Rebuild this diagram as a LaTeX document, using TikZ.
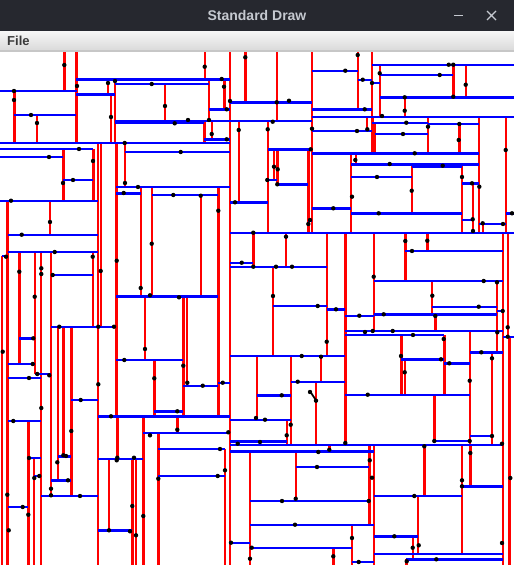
\documentclass[tikz,border=0pt]{standalone}
\usepackage{fontspec}
\setmainfont{Liberation Sans}
\definecolor{titlebg}{HTML}{26282F}
\definecolor{titlefg}{HTML}{C5C9D0}
\definecolor{menutop}{HTML}{F7F7F7}
\definecolor{menubot}{HTML}{DADADA}
\definecolor{menufg}{HTML}{3A3A3A}
\definecolor{kdred}{HTML}{FF0000}
\definecolor{kdblue}{HTML}{0000FF}
\tikzset{
  vline/.style={draw=kdred,line width=2.4pt},
  hline/.style={draw=kdblue,line width=2.4pt},
  kdpt/.style={fill=black},
  winbtn/.style={draw=titlefg,line width=1.2pt}
}
\begin{document}
\begin{tikzpicture}[x=1pt,y=-1pt]
\useasboundingbox (0,0) rectangle (514,565);
% title bar
\fill[titlebg] (0,0) rectangle (514,31);
\node[font=\bfseries\fontsize{14}{16}\selectfont, text=titlefg] (title) at (257,15.5) {Standard Draw};
\draw[winbtn] (454,15.5) -- (463,15.5);
\draw[winbtn] (487,11) -- (496,20) (487,20) -- (496,11);
% menu bar
\shade[top color=menutop,bottom color=menubot] (0,31) rectangle (514,50);
\node[font=\bfseries\fontsize{13}{15}\selectfont, text=menufg, anchor=base west, inner sep=0pt] (menu) at (7,45) {File};
\fill[black!22] (0,50) rectangle (514,52);
\fill[white] (0,52) rectangle (514,565);
\begin{scope}
\clip (0,52) rectangle (514,565);
% red vertical lines
\foreach \x/\a/\b in {
230/52/565, 64.3/52/91, 76.3/52/142.7, 108/79.3/94.3, 110.7/94.3/142.7, 115/79.3/142.7,
165/84/121, 14.3/91/142.7, 37/115/142.7, 63.3/149/200.7, 93.3/149/200.7, 97.7/142.7/565,
100.7/142.7/326.7, 7.5/200.7/565, 50/200.7/234.7, 116.3/142.7/416.3, 117.3/416.3/457.7,
125/142.7/186.7, 140.7/186.7/296.5, 151.7/186.7/296.5, 204.7/52/79.3, 245.3/52/102.3,
276.7/52/121.7, 311.7/52/232.7, 209/79.3/121, 224.3/79.3/109.3, 238.7/121/202.3,
267.7/121/232.7, 274/149.3/180, 277.3/149.3/184.3, 308.3/149.3/232.7, 204.3/121/142.7,
212/121/139.3, 200.7/195/296.5, 218.3/186.7/416.3, 357.7/52/109.3, 371.7/52/116.7,
372.3/116.7/153.3, 374.7/122.7/153.3, 379.7/64.7/116.7, 453.3/64.7/97.3, 465.7/64.7/97.3,
404.7/97.3/116.7, 367/116.7/131, 428/116.7/153.3, 459.3/124/153.3, 478.7/116.7/232.7,
505.7/116.7/232.7, 351/153.3/232.7, 356/153.3/164.3, 411.7/164.3/213.3, 462/164.3/232.7,
472.7/183.3/232.7, 482.7/224/232.7, 1.7/256/565, 19.3/252/364, 34.7/252/374, 41/252/565,
51/252/496, 92.7/252/326.7, 57.7/326.7/480.3, 63.5/326.7/456.3, 71.3/326.7/496,
145/296.5/360, 154.3/360/416.3, 183.3/296.5/416.3, 186.7/296.5/385.7, 253.3/232.7/266.7,
286/232.7/266.7, 326.7/232.7/356, 273/266.7/356, 256.7/356/419.7, 290.7/356/445.3,
321/356/381.7, 316/381.7/445.3, 345.3/232.7/444.7, 373.7/232.7/331, 405.3/232.7/281,
427.3/232.7/251, 503/232.7/565, 507.7/232.7/336.7, 497/281/352.3, 432/281/314.3,
435.3/314.3/331, 401.3/335/394.7, 404.7/359.3/394.7, 444.3/335/394.7, 469.7/331/444.7,
492/352.3/444.7, 509.5/336.7/565, 434.3/394.7/441, 286.7/419.7/445.3, 329.3/444.7/451.3,
237.7/441.3/444.7, 250/451.3/565, 295.7/451.3/501, 333.3/547.7/565, 177.3/416.3/433,
225/449/565, 369.3/444.7/524.7, 373.7/444.7/565, 424.3/444.7/496, 462/444.7/553.7,
470.3/444.7/486.3, 352/524.7/565, 413/536.3/558.7, 418/496/553.7, 406.3/559.3/565,
28.3/421/565, 34/458/565, 143.3/416.3/565, 109/458.7/530.3, 132.3/458.7/565,
136/458.7/565, 158.3/433/565}
  \draw[vline] (\x,\a) -- (\x,\b);
% blue horizontal lines
\foreach \y/\a/\b in {
91/0/77, 79.3/76.3/230, 94.3/76.3/115, 84/115/209, 121/115/230, 123/115/204,
115/14.3/76.3, 142.7/0/230, 149/0/93.3, 156.7/0/63.3, 180/63.3/93.3, 200.7/0/98,
186.7/116.3/230, 151.7/125/230, 193.3/116.3/140.7, 195/151.7/218.3, 102.3/230/311.7,
109.3/209/230, 121/230/311.7, 202.3/230/267.7, 149.3/267.7/311.7, 180/267.7/277.3,
184.3/277.3/308.3, 139.3/204.3/230, 208.3/311.7/351, 70.7/311.7/357.7, 109.3/311.7/371.7,
116.7/311.7/514, 131/311.7/371.7, 153.3/311.7/478.7, 64.7/371.7/514, 79.7/357.7/371.7,
83/371.7/379.7, 75/379.7/453.3, 97.3/379.7/514, 122.7/371.7/428, 124/428/478.7,
134/374.7/428, 164.3/351/478.7, 166.3/411.7/462, 177/351/411.7, 183.3/462/478.7,
213.3/351/462, 220/462/472.7, 213.3/505.7/514, 224/478.7/505.7, 221/308.3/311.7,
234.7/7.5/98, 252/7.5/98, 256/1.7/7.5, 338.3/19.3/34.7, 275/51/92.7, 326.7/51/116.3,
364/7.5/34.7, 378/7.5/41, 374/34.7/51, 296.5/116.3/218.3, 360/116.3/183.3,
385.7/183.3/218.3, 382.7/218.3/230, 232.7/230/514, 262.7/230/253.3, 266.7/230/326.7,
306/273/326.7, 309.3/326.7/345.3, 356/230/345.3, 381.7/290.7/345.3, 251/405.3/503,
281/373.7/503, 306.7/432/497, 310.7/497/503, 314.3/373.7/497, 315.7/345.3/373.7,
331/345.3/503, 335/345.3/444.3, 336.7/503/514, 359.3/401.3/444.3, 363.3/444.3/469.7,
352.3/469.7/503, 394.7/345.3/469.7, 441/434.3/469.7, 436/469.7/492, 444.7/230/503,
395.3/256.7/290.7, 419.7/230/290.7, 441.3/230/286.7, 451.3/230/373.7, 467/295.7/369.3,
501/250/369.3, 524.7/250/373.7, 542.7/230/250, 547.7/250/352, 496/373.7/462,
486.3/462/503, 562/352/373.7, 536.3/373.7/418, 553.7/373.7/503, 559.3/406.3/503,
411.3/154.3/183.3, 416.3/98/230, 433/143.3/230, 449/158.3/225, 476/158.3/225,
421/7.5/41, 458/28.3/41, 476/34/41, 507/7.5/28.3, 456.3/57.7/71.3, 480.3/51/71.3,
496/41/98, 400/71.3/98, 458.7/98/143.3, 530.3/98/132.3}
  \draw[hline] (\a,\y) -- (\b,\y);
% points
\foreach \px/\py in {
64.3/65, 77/86, 221.7/79, 108/83, 111/117, 115/81, 151.7/84, 165/106, 14/91, 14/100,
31/115, 37/123, 124.7/143, 79/149, 49/157, 63/183, 73/180, 93/161, 11/200.7, 50/222,
125/183, 138/187, 123.7/193, 140.7/288, 151.7/243.7, 173.3/195, 200.7/195.7, 204.7/66.7,
245.3/57.3, 276.7/102.3, 230/101, 289/100.7, 209/120, 224/86.7, 226.7/109.3, 272.7/121.7,
188/120, 174.7/123.3, 238.7/130, 235/202.3, 267.7/129.3, 310.7/149.3, 274/166.7,
277.7/169.3, 267.3/180, 277.3/184.3, 211.7/134, 226.7/139.3, 180.7/152, 218.3/210.7,
333.3/208.3, 345.3/70.7, 364.7/109.3, 357/131, 414.7/153.3, 312/128.7, 357.7/55,
448.7/64.7, 453.3/64.7, 362.7/79.7, 372/83, 379.7/73.3, 382/116, 439.7/75, 453.3/96.7,
465.7/84.7, 404.7/97.3, 404.7/110.7, 406.3/122.7, 459.3/124, 367.3/129.3, 403/134,
428/126.7, 458.7/140, 479.3/186.7, 505.7/150, 355.3/160, 352/196.7, 389.7/164,
442.7/165.7, 411.7/190.7, 377/177, 462/177, 472/183.3, 472.7/219.3, 378.7/213.3,
512/213.3, 482.7/223.3, 503/224, 473/231, 310/220, 308.3/224, 21.7/234.7, 54.7/252,
6/256.7, 2.7/351.7, 19.3/271.7, 33.3/338.3, 34.7/296.7, 41.3/268.3, 41.3/274, 52.7/275,
92.7/256.7, 100.7/271, 59.3/326.7, 114/326.7, 98.3/326.7, 32.7/364, 29/378, 37.3/374,
49.3/375.3, 98.3/384.3, 116.7/260.7, 150/295.3, 179/297.3, 145/349, 124.3/360,
154.3/378.3, 183.3/365.7, 187.3/382.7, 202.7/385.7, 222.7/382.7, 253.3/232.7,
241.7/262.7, 253.3/266.7, 276/266.7, 292/266.7, 286/236.7, 326.7/341.7, 273/296,
317.7/306, 336/309.3, 301.7/356, 321/356.7, 256/418, 297.7/381.7, 316/400.7, 310/392,
345.3/443, 373.7/276.7, 372.7/331, 405.3/241, 427.3/240.7, 412/251, 502.7/311,
507.7/327.3, 483.7/281, 497/282.3, 497.3/332.3, 432.3/295.7, 478.7/306.7, 435.3/316,
383.7/314.3, 359.3/315.7, 392.7/331, 365/332, 413/335, 507.7/336.7, 401/356,
404.7/372.3, 441/359.3, 443.7/339, 449.3/363.3, 469.7/380.7, 481.3/352.3, 492/358.3,
510.3/478, 367.7/394.7, 434.3/441, 469.7/441, 492/436, 424.3/446.3, 502/443.7,
281.7/395.3, 265/419.7, 286.7/435.3, 290.7/424.7, 260/442, 237.7/443.7, 318.3/452,
329.3/449.7, 250/558.7, 317/467, 295.7/498.7, 282/501, 368.7/501, 295/524.7, 231/542.7,
251.7/547.7, 333.3/556.3, 177.3/411.3, 177.3/429.7, 228.3/432.3, 220/449, 225/470.3,
217.7/476, 369.7/460.3, 372/477.7, 414.3/496, 462/480.3, 462/486.3, 470.3/453, 352/538,
358.7/562, 394.3/536.3, 412.7/547.7, 418.7/545.3, 436.3/559.3, 406.7/561.3, 502/543,
7.3/494.7, 8.7/530.3, 13.3/421, 28.3/514.7, 29/458, 39.3/476, 34.3/478, 22.7/507,
41.3/408, 51/488.7, 51/495.3, 57.3/462.3, 63.3/455.3, 66/456, 68/480.3, 71.3/431,
80/496, 80.7/400, 111/416.3, 117.3/457.7, 143.3/516, 134/457.7, 116.7/460.3, 109/530.3,
130/531.3, 132.3/506, 136/535.3, 150/435.3, 158.3/478.7}
  \fill[kdpt] (\px,\py) circle (2.2pt);
% stray black stroke
\draw[black,line width=1.8pt] (310.5,392) -- (316.5,401);
\end{scope}
\end{tikzpicture}
\end{document}
